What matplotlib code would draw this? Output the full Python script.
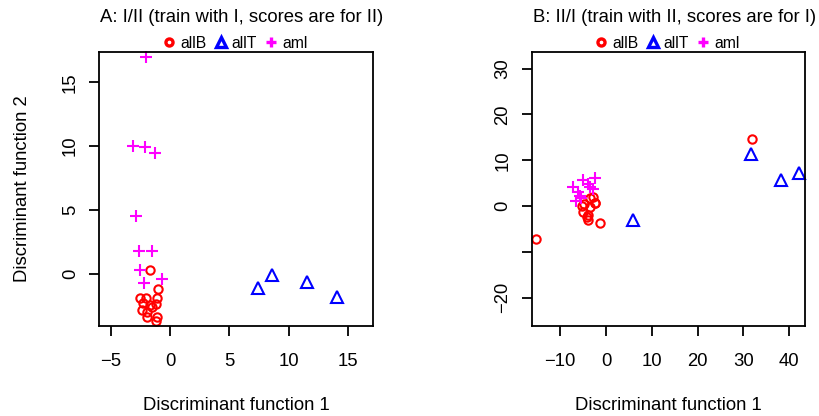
#!/usr/bin/env python3
"""Discriminant scores, two train/test directions, side by side."""
import matplotlib
matplotlib.use('Agg')
import matplotlib.pyplot as plt
from matplotlib.lines import Line2D

plt.rcParams['font.family'] = ['Liberation Sans', 'DejaVu Sans']

# --- panel A: train with I, scores for II ---
a_allB_x = [-1.7, -1.0, -2.5, -2.0, -1.1, -2.25, -1.7, -1.2, -2.4, -1.9, -1.95, -1.1, -1.2, -1.5]
a_allB_y = [0.3, -1.2, -1.85, -1.85, -1.85, -2.3, -2.45, -2.35, -2.8, -2.95, -3.4, -3.4, -3.7, -2.6]
a_allT_x = [7.4, 8.6, 11.5, 14.1]
a_allT_y = [-1.1, -0.1, -0.6, -1.8]
a_aml_x = [-2.0, -3.1, -2.1, -1.3, -2.9, -2.6, -1.5, -2.5, -2.2, -0.7]
a_aml_y = [17.0, 10.0, 9.9, 9.5, 4.5, 1.8, 1.8, 0.3, -0.7, -0.4]

# --- panel B: train with II, scores for I ---
b_allB_x = [-15.2, 32.0, -1.3, -5.3, -4.8, -2.4, -2.3, -3.6, -5.0, -4.2, -3.9, -3.9, -2.8, -3.6]
b_allB_y = [-7.1, 14.6, -3.8, 0.1, 0.5, 0.6, 0.7, -0.2, -1.3, -2.3, -2.0, -3.1, 2.0, 1.7]
b_allT_x = [6.0, 31.6, 38.2, 42.2]
b_allT_y = [-3.1, 11.4, 5.6, 7.2]
b_aml_x = [-7.3, -5.0, -2.4, -3.6, -2.8, -6.6, -5.7, -4.0, -6.1, -5.4]
b_aml_y = [4.2, 5.6, 6.1, 4.2, 3.7, 1.1, 2.3, 4.8, 3.1, 1.7]

groups = ['allB', 'allT', 'aml']
colors = {'allB': '#FF0000', 'allT': '#0000FF', 'aml': '#FF00FF'}
markers = {'allB': 'o', 'allT': '^', 'aml': '+'}
msizes = {'allB': 6.0, 'allT': 8.0, 'aml': 9.0}

a_xticks = [-5, 0, 5, 10, 15]
a_yticks = [0, 5, 10, 15]
b_xticks = [-10, 0, 10, 20, 30, 40]
b_yticks = [-20, -10, 0, 10, 20, 30]
b_yticklabels = ['\u221220', '', '0', '10', '20', '30']

FS = 13.3
W, H = 820, 416

fig = plt.figure(figsize=(W / 100, H / 100), dpi=100)
fig.patch.set_facecolor('white')

def px_box(left, top, right, bottom):
    return [left / W, 1 - bottom / H, (right - left) / W, (bottom - top) / H]

axA = fig.add_axes(px_box(99, 52, 373, 326))
axB = fig.add_axes(px_box(531.7, 52, 805, 326))


def draw(ax, data):
    for g in groups:
        xs, ys = data[g]
        ax.plot(xs, ys, linestyle='none', marker=markers[g], markersize=msizes[g],
                markerfacecolor='none', markeredgecolor=colors[g],
                markeredgewidth=1.5, clip_on=False)
    for sp in ax.spines.values():
        sp.set_linewidth(1.3)
    ax.tick_params(direction='out', length=7.5, width=1.3, labelsize=FS, pad=12)
    ax.tick_params(axis='y', pad=7)


draw(axA, {'allB': (a_allB_x, a_allB_y), 'allT': (a_allT_x, a_allT_y),
           'aml': (a_aml_x, a_aml_y)})
draw(axB, {'allB': (b_allB_x, b_allB_y), 'allT': (b_allT_x, b_allT_y),
           'aml': (b_aml_x, b_aml_y)})

axA.set_xlim(-5.98, 17.1)
axA.set_ylim(-4.07, 17.37)
axA.set_xticks(a_xticks)
axA.set_xticklabels([str(t).replace('-', '\u2212') for t in a_xticks])
axA.set_yticks(a_yticks)
axA.set_yticklabels([str(t) for t in a_yticks], rotation=90, va='center')

axB.set_xlim(-16.23, 43.48)
axB.set_ylim(-26.2, 33.65)
axB.set_xticks(b_xticks)
axB.set_xticklabels([str(t).replace('-', '\u2212') for t in b_xticks])
axB.set_yticks(b_yticks)
axB.set_yticklabels(b_yticklabels, rotation=90, va='center')

# titles, axis labels
fig.text(242 / W, 1 - 17 / H, 'A: I/II (train with I, scores are for II)',
         ha='center', va='center', fontsize=FS)
fig.text(675 / W, 1 - 17 / H, 'B: II/I (train with II, scores are for I)',
         ha='center', va='center', fontsize=FS)
fig.text(236 / W, 1 - 405 / H, 'Discriminant function 1',
         ha='center', va='center', fontsize=FS)
fig.text(668 / W, 1 - 405 / H, 'Discriminant function 1',
         ha='center', va='center', fontsize=FS)
fig.text(23 / W, 1 - 189 / H, 'Discriminant function 2',
         ha='center', va='center', rotation=90, fontsize=FS)

# legends above each panel
handles = [Line2D([], [], linestyle='none', marker=markers[g], markersize=msizes[g] * 0.85,
                  markerfacecolor='none', markeredgecolor=colors[g], markeredgewidth=2.4)
           for g in groups]
for cx in (236, 668):
    fig.legend(handles, groups, loc='center', bbox_to_anchor=(cx / W, 1 - 43 / H),
               ncol=3, frameon=False, fontsize=11.3, handlelength=0.6,
               handletextpad=0.4, columnspacing=0.6, borderpad=0, borderaxespad=0)

fig.savefig('out.png', dpi=100, facecolor='white')
plt.close(fig)
